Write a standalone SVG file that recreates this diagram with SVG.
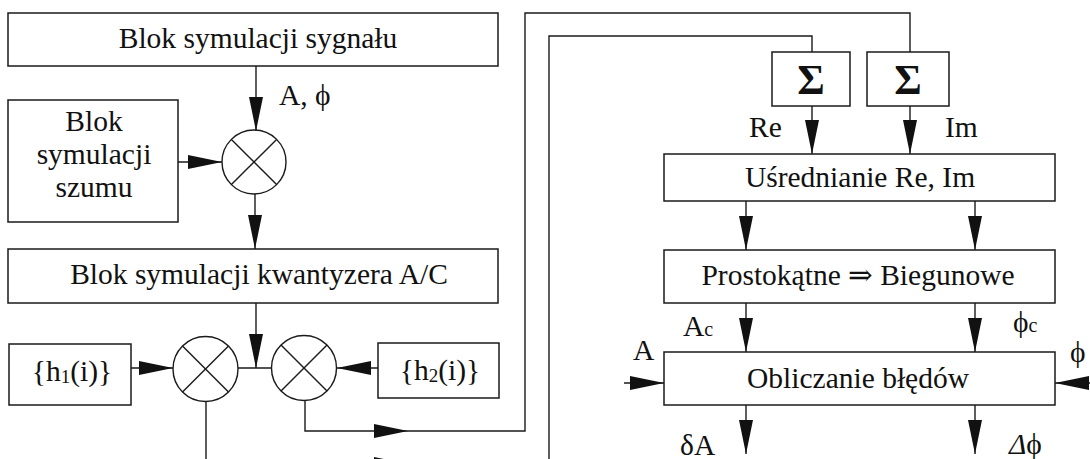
<svg xmlns="http://www.w3.org/2000/svg" width="1090" height="459" viewBox="0 0 1090 459">
<style>
  .box { fill: #ffffff; stroke: #1a1a1a; stroke-width: 1.5; }
  .ln { fill: none; stroke: #1a1a1a; stroke-width: 1.4; }
  .t { font-family: "Liberation Serif", "DejaVu Serif", serif; font-size: 29.5px; fill: #111111; }
  .c { text-anchor: middle; }
  .sig { font-family: "Liberation Serif", "DejaVu Serif", serif; font-size: 42px; font-weight: bold; fill: #111111; text-anchor: middle; }
</style>
<defs>
  <marker id="ah" markerWidth="34" markerHeight="14" refX="34" refY="7" orient="auto" markerUnits="userSpaceOnUse">
    <path d="M0,0 L34,7 L0,14 z" fill="#111111"/>
  </marker>
</defs>
<rect width="1090" height="459" fill="#ffffff"/>

<g id="connectors">
  <line class="ln" x1="256" y1="66" x2="256" y2="131" marker-end="url(#ah)"/>
  <line class="ln" x1="178" y1="162" x2="222" y2="162" marker-end="url(#ah)"/>
  <line class="ln" x1="255" y1="194" x2="255" y2="249" marker-end="url(#ah)"/>
  <line class="ln" x1="256" y1="303" x2="256" y2="368" marker-end="url(#ah)"/>
  <line class="ln" x1="238" y1="368" x2="272" y2="368"/>
  <line class="ln" x1="131" y1="368" x2="173" y2="368" marker-end="url(#ah)"/>
  <line class="ln" x1="378" y1="368" x2="337" y2="368" marker-end="url(#ah)"/>
  <path class="ln" d="M305,400 V431 H408" marker-end="url(#ah)"/>
  <path class="ln" d="M408,431 H525 V13 H910 V52"/>
  <path class="ln" d="M206,401 V464 H408" marker-end="url(#ah)"/>
  <path class="ln" d="M408,464 H549 V36 H812 V52"/>
  <line class="ln" x1="812" y1="106" x2="812" y2="154" marker-end="url(#ah)"/>
  <line class="ln" x1="910" y1="106" x2="910" y2="154" marker-end="url(#ah)"/>
  <line class="ln" x1="746" y1="201" x2="746" y2="250" marker-end="url(#ah)"/>
  <line class="ln" x1="975" y1="201" x2="975" y2="250" marker-end="url(#ah)"/>
  <line class="ln" x1="746" y1="303" x2="746" y2="352" marker-end="url(#ah)"/>
  <line class="ln" x1="975" y1="303" x2="975" y2="352" marker-end="url(#ah)"/>
  <line class="ln" x1="624" y1="383" x2="664" y2="383" marker-end="url(#ah)"/>
  <line class="ln" x1="1092" y1="383" x2="1055" y2="383" marker-end="url(#ah)"/>
  <line class="ln" x1="746" y1="405" x2="746" y2="454" marker-end="url(#ah)"/>
  <line class="ln" x1="975" y1="405" x2="975" y2="454" marker-end="url(#ah)"/>
</g>

<g id="signal">
  <rect class="box" x="8" y="13" width="490" height="53"/>
  <text class="t c" x="258" y="48">Blok symulacji sygnału</text>
</g>
<text class="t" x="279" y="105">A, ϕ</text>

<g id="noise">
  <rect class="box" x="8" y="100" width="170" height="122"/>
  <text class="t c" x="94" y="131">Blok</text>
  <text class="t c" x="94" y="164">symulacji</text>
  <text class="t c" x="94" y="197">szumu</text>
</g>

<g id="mix1">
  <circle class="ln" cx="254" cy="162" r="32"/>
  <line class="ln" x1="231.4" y1="139.4" x2="276.6" y2="184.6"/>
  <line class="ln" x1="276.6" y1="139.4" x2="231.4" y2="184.6"/>
</g>

<g id="quantizer">
  <rect class="box" x="8" y="249" width="490" height="54"/>
  <text class="t c" x="259" y="284">Blok symulacji kwantyzera A/C</text>
</g>

<g id="h1">
  <rect class="box" x="9" y="344" width="122" height="61"/>
  <text class="t c" x="72" y="381">{h<tspan font-size="19" dy="2">1</tspan><tspan dy="-2">(i)}</tspan></text>
</g>

<g id="mixh1">
  <circle class="ln" cx="205.5" cy="369" r="32.5"/>
  <line class="ln" x1="182.5" y1="346" x2="228.5" y2="392"/>
  <line class="ln" x1="228.5" y1="346" x2="182.5" y2="392"/>
</g>

<g id="mixh2">
  <circle class="ln" cx="304" cy="368" r="32.5"/>
  <line class="ln" x1="281" y1="345" x2="327" y2="391"/>
  <line class="ln" x1="327" y1="345" x2="281" y2="391"/>
</g>

<g id="h2">
  <rect class="box" x="378" y="343" width="121" height="55"/>
  <text class="t c" x="440" y="380">{h<tspan font-size="19" dy="2">2</tspan><tspan dy="-2">(i)}</tspan></text>
</g>

<g id="sumRe">
  <rect class="box" x="772" y="52" width="78" height="54"/>
  <text class="sig" x="811" y="94">Σ</text>
</g>
<g id="sumIm">
  <rect class="box" x="867" y="52" width="82" height="54"/>
  <text class="sig" x="908" y="94">Σ</text>
</g>
<text class="t" x="749" y="137">Re</text>
<text class="t" x="945" y="137">Im</text>

<g id="averaging">
  <rect class="box" x="664" y="154" width="391" height="47"/>
  <text class="t c" x="860" y="187">Uśrednianie Re, Im</text>
</g>

<g id="rect2polar">
  <rect class="box" x="664" y="250" width="391" height="53"/>
  <text class="t c" x="858" y="285">Prostokątne ⇒ Biegunowe</text>
</g>

<text class="t" x="683" y="336">A<tspan font-size="20">c</tspan></text>
<text class="t" x="1013" y="332">ϕ<tspan font-size="20">c</tspan></text>
<text class="t" x="633" y="360">A</text>
<text class="t" x="1070" y="362">ϕ</text>

<g id="errors">
  <rect class="box" x="664" y="352" width="391" height="53"/>
  <text class="t c" x="858" y="388">Obliczanie błędów</text>
</g>

<text class="t" x="680" y="455">δA</text>
<text class="t" x="1009" y="454"><tspan font-style="italic">Δ</tspan>ϕ</text>
</svg>
